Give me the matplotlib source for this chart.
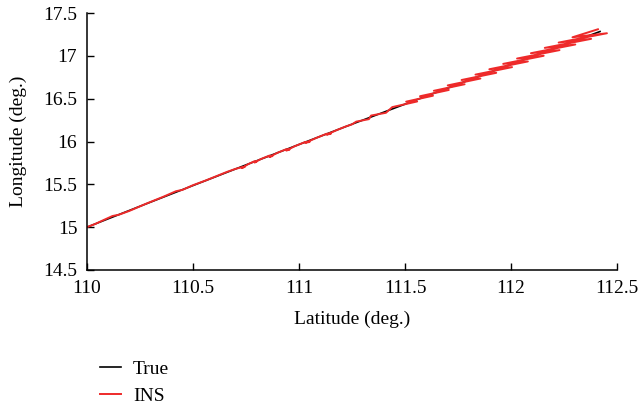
import matplotlib
matplotlib.use("Agg")
import matplotlib.pyplot as plt

# --- datos ---------------------------------------------------------------
true_lat = [110.0, 110.25, 110.5, 110.75, 111.0, 111.25, 111.5, 111.75, 112.0, 112.2, 112.42]
true_lon = [15.0, 15.244, 15.486, 15.727, 15.965, 16.202, 16.436, 16.669, 16.900, 17.083, 17.284]

# tramo inicial: sigue la trayectoria con pequeños rizos
ins_lat_a = [110.00, 110.04, 110.08, 110.12, 110.15, 110.20, 110.28, 110.36, 110.42, 110.45,
             110.50, 110.56, 110.62, 110.66, 110.70, 110.73, 110.745, 110.73, 110.76, 110.79,
             110.80, 110.79, 110.82, 110.86, 110.875, 110.86, 110.90, 110.94, 110.955, 110.94,
             110.98, 111.03, 111.05, 111.03, 111.08, 111.13, 111.15, 111.13, 111.18, 111.22,
             111.25, 111.27, 111.33, 111.34, 111.41]
ins_lon_a = [15.0, 15.039, 15.085, 15.13, 15.145, 15.19, 15.275, 15.355, 15.42, 15.435,
             15.49, 15.545, 15.605, 15.645, 15.68, 15.70, 15.705, 15.69, 15.735, 15.77,
             15.765, 15.755, 15.795, 15.835, 15.83, 15.82, 15.87, 15.91, 15.905, 15.895,
             15.945, 15.995, 15.995, 15.985, 16.04, 16.09, 16.09, 16.08, 16.135, 16.175,
             16.20, 16.232, 16.261, 16.303, 16.335]

# tramo final: vaivén en trazos planos, cada vez más largos
ins_lat_b = [111.44, 111.5573, 111.5054, 111.6319, 111.5708, 111.7065, 111.6362, 111.7811,
             111.7016, 111.8557, 111.767, 111.9303, 111.8324, 112.0049, 111.8978, 112.0795,
             111.9632, 112.1541, 112.0286, 112.2287, 112.094, 112.3033, 112.1594, 112.3779,
             112.2248, 112.4525, 112.29, 112.41]
ins_lon_b = [16.4015, 16.4672, 16.4652, 16.5344, 16.5285, 16.6014, 16.5919, 16.6683,
             16.6549, 16.7351, 16.7180, 16.8016, 16.7809, 16.8681, 16.8435, 16.9344,
             16.9061, 17.0005, 16.9684, 17.0666, 17.0307, 17.1324, 17.0929, 17.1982,
             17.1548, 17.2637, 17.2165, 17.31]

ins_lat = ins_lat_a + ins_lat_b
ins_lon = ins_lon_a + ins_lon_b

xticks = [110, 110.5, 111, 111.5, 112, 112.5]
xtick_labels = ["110", "110.5", "111", "111.5", "112", "112.5"]
yticks = [14.5, 15, 15.5, 16, 16.5, 17, 17.5]
ytick_labels = ["14.5", "15", "15.5", "16", "16.5", "17", "17.5"]

# --- figura --------------------------------------------------------------
plt.rcParams["font.family"] = ["Liberation Serif", "DejaVu Serif"]
plt.rcParams["font.size"] = 14

fig = plt.figure(figsize=(6.4, 4.07), dpi=100)
ax = fig.add_axes([87 / 640, 1 - 270 / 407, 530 / 640, 257 / 407])

ax.plot(true_lat, true_lon, color="black", lw=1.2, label="True")
ax.plot(ins_lat, ins_lon, color="#ee2a2a", lw=1.4, label="INS")

ax.set_xlim(110, 112.5)
ax.set_ylim(14.5, 17.5)
ax.set_xticks(xticks)
ax.set_xticklabels(xtick_labels)
ax.set_yticks(yticks)
ax.set_yticklabels(ytick_labels)
ax.tick_params(direction="in", length=5, width=1, pad=7)
for s in ["top", "right"]:
    ax.spines[s].set_visible(False)
for s in ["left", "bottom"]:
    ax.spines[s].set_linewidth(1.1)

ax.set_xlabel("Latitude (deg.)", labelpad=10)
ax.set_ylabel("Longitude (deg.)", labelpad=12)

fig.legend(loc="upper left", bbox_to_anchor=(100 / 640, 1 - 360 / 407),
           frameon=False, handlelength=1.1, handletextpad=0.6,
           labelspacing=0.5, borderpad=0, borderaxespad=0)

fig.savefig("out.png", dpi=100)
